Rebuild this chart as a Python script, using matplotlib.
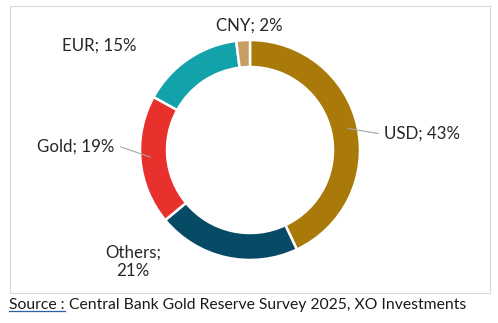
import matplotlib.pyplot as plt
from matplotlib.patches import Rectangle

# reserve shares, clockwise from 12 o'clock
labels = ["USD", "Others", "Gold", "EUR", "CNY"]
shares = [43, 21, 19, 15, 2]
colors = ["#A97A0A", "#074A66", "#E8302C", "#12A2AA", "#C6A062"]

source_head = "Source :"
source_tail = " Central Bank Gold Reserve Survey 2025, XO Investments"

plt.rcParams['font.family'] = ['Lato', 'DejaVu Sans']

W, H = 498, 323
fig = plt.figure(figsize=(W / 100, H / 100), dpi=100)
ax = fig.add_axes([0, 0, 1, 1])

# pixel-like coords, y up
cx, cy, r = 250, H - 150, 110
wedges, _ = ax.pie(shares, colors=colors, startangle=90, counterclock=False,
                   center=(cx, cy), radius=r,
                   wedgeprops=dict(width=27, edgecolor="white", linewidth=1.8))
ax.set_xlim(0, W)
ax.set_ylim(0, H)
ax.set_aspect("auto")
ax.axis("off")

# chart frame
ax.add_patch(Rectangle((9.5, H - 293), 480, 287, fill=False,
                       edgecolor="#D9D9D9", linewidth=0.8))

txt = dict(fontsize=12.2, color="#262626")
ax.text(384, H - 134, f"{labels[0]}; {shares[0]}%", ha="left", va="center", **txt)
ax.annotate("", xy=(345, H - 128), xytext=(381, H - 134),
            arrowprops=dict(arrowstyle="-", color="#A6A6A6", lw=0.8))
ax.text(133, H - 262, f"{labels[1]};\n{shares[1]}%", ha="center", va="center",
        linespacing=1.15, **txt)
ax.text(114, H - 147, f"{labels[2]}; {shares[2]}%", ha="right", va="center", **txt)
ax.annotate("", xy=(153, H - 158), xytext=(118, H - 146),
            arrowprops=dict(arrowstyle="-", color="#A6A6A6", lw=0.8))
ax.text(99, H - 46, f"{labels[3]}; {shares[3]}%", ha="center", va="center", **txt)
ax.text(249, H - 26, f"{labels[4]}; {shares[4]}%", ha="center", va="center", **txt)

# source line with underlined head
t1 = fig.text(9 / W, 1 - 305 / H, source_head, ha="left", va="center",
              fontsize=11.3, color="#1a1a1a")
fig.canvas.draw()
bb = t1.get_window_extent()
fig.text(bb.x1 / W, 1 - 305 / H, source_tail, ha="left", va="center",
         fontsize=11.3, color="#1a1a1a")
ax.plot([bb.x0, bb.x1], [bb.y0 + 1, bb.y0 + 1], color="#2E5FA8", lw=0.9)

fig.savefig("out.png", dpi=100, facecolor="white")
